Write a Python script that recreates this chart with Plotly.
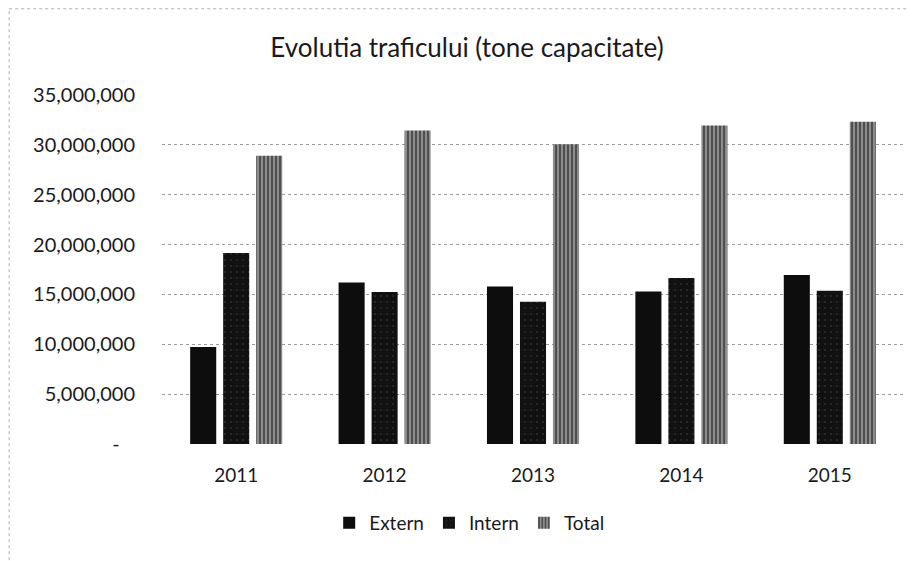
import plotly.graph_objects as go

years = ["2011", "2012", "2013", "2014", "2015"]
extern = [9730000, 16200000, 15800000, 15300000, 16950000]
intern = [19160000, 15250000, 14270000, 16650000, 15370000]
total = [28900000, 31450000, 30070000, 31950000, 32320000]

tick_vals = [0, 5000000, 10000000, 15000000, 20000000, 25000000, 30000000, 35000000]
tick_text = ["-\u00a0\u00a0\u00a0", "5,000,000", "10,000,000", "15,000,000", "20,000,000",
             "25,000,000", "30,000,000", "35,000,000"]

FONT = "Lato, Carlito, Calibri, 'Open Sans', sans-serif"

fig = go.Figure()
fig.add_trace(go.Bar(name="Extern", x=years, y=extern,
                     marker=dict(color="#0d0d0d", line=dict(width=0))))
fig.add_trace(go.Bar(name="Intern", x=years, y=intern,
                     marker=dict(color="#111111", line=dict(width=0),
                                 pattern=dict(shape=".", fgcolor="#444444",
                                              bgcolor="#111111", size=6, solidity=0.1))))
fig.add_trace(go.Bar(name="Total", x=years, y=total,
                     marker=dict(color="#808080", line=dict(width=0),
                                 pattern=dict(shape="|", fgcolor="#111111",
                                              bgcolor="#8c8c8c", size=4, solidity=0.5))))

# page body adds an 8px offset; margins compensate
fig.update_layout(
    width=917, height=561,
    paper_bgcolor="white", plot_bgcolor="white",
    margin=dict(l=154, r=21, t=87, b=125),
    barmode="group", bargap=0.333, bargroupgap=0.21,
    title=dict(text="Evolutia traficului (tone capacitate)", x=0.5005, xanchor="center",
               y=0.929, yanchor="middle",
               font=dict(family=FONT, size=26, color="#1a1a1a")),
    font=dict(family=FONT, size=19, color="#1a1a1a"),
    legend=dict(orientation="h", x=0.414, xanchor="center", y=-0.226, yanchor="middle",
                font=dict(family=FONT, size=19, color="#1a1a1a"),
                itemwidth=30, traceorder="normal"),
    showlegend=True,
)
fig.update_yaxes(range=[0, 35000000], tickvals=tick_vals, ticktext=tick_text,
                 showgrid=True, gridcolor="#9a9a9a", griddash="dot", gridwidth=1,
                 zeroline=False, showline=False, ticks="", ticklabelstandoff=26,
                 tickfont=dict(family=FONT, size=20, color="#1a1a1a"))
fig.update_xaxes(showgrid=False, showline=False,
                 ticks="", ticklabelstandoff=18,
                 tickfont=dict(family=FONT, size=19, color="#1a1a1a"))

# scanned chart border (top & left)
fig.add_shape(type="line", xref="paper", yref="paper", x0=-0.206, x1=1.02, y0=1.247, y1=1.247,
              line=dict(color="#b0b0b0", width=1, dash="dot"))
fig.add_shape(type="line", xref="paper", yref="paper", x0=-0.206, x1=-0.206, y0=-0.35, y1=1.247,
              line=dict(color="#b0b0b0", width=1, dash="dot"))

fig.write_html("out.html")
